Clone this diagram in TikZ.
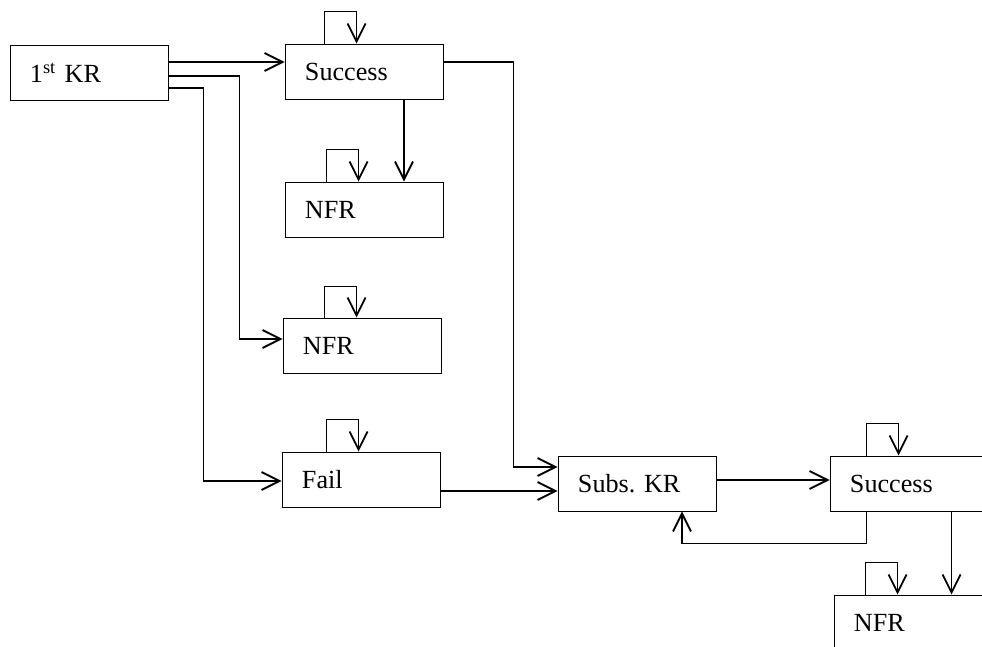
\documentclass[tikz,border=0pt]{standalone}
\usepackage{fontspec}
\setmainfont{Liberation Serif}
\usepackage{tikz}
\usetikzlibrary{arrows.meta,calc}

\begin{document}
\begin{tikzpicture}[
	x=0.025cm, y=-0.025cm,
	box/.style={
		draw,
		line width=0.6pt,
		minimum width=3.95cm,
		minimum height=1.375cm,
		text width=2.95cm,
		inner xsep=0.5cm,
		align=left,
		font=\fontsize{18.6}{22}\selectfont
	},
	arrow/.style={
		-{Straight Barb[length=4.5mm,width=4.5mm]},
		line width=1.3pt
	}
	]
	
	\useasboundingbox (0,0) rectangle (982,646);
	\clip (0,0) rectangle (982,646);
	
	% first round
	\node[box] (kr) at (89,72.5)
	{1\textsuperscript{st} KR};
	
	\node[box] (succa) at (364,71.5)
	{Success};
	
	\node[box] (nfra) at (364,209.5)
	{NFR};
	
	\node[box] (nfrb) at (362,345.5)
	{NFR};
	
	\node[box] (fail) at (361,479.5)
	{Fail};
	
	% subsequent rounds
	\node[box] (subs) at (637,483.5)
	{Subs.\ KR};
	
	\node[box] (succb) at (909,483.5)
	{Success};
	
	\node[box] (nfrc) at (913,622.5)
	{NFR};
	
	% Arrows out of the first KR
	\draw[arrow] ($(kr.east)+(0,-10.5)$) -- ($(succa.west)+(0,-9.5)$);
	\draw[arrow] ($(kr.east)+(0,3.5)$) -- ++(71,0) |- ($(nfrb.west)+(0,-6.5)$);
	\draw[arrow] ($(kr.east)+(0,15.5)$) -- ++(35,0) |- ($(fail.west)+(0,1.5)$);
	
	\draw[arrow] ($(succa.south)+(40,0)$) -- ($(nfra.north)+(40,0)$);
	\draw[arrow] ($(succa.east)+(0,-9.5)$) -- ++(70,0) |- ($(subs.west)+(0,-16.5)$);
	\draw[arrow] ($(fail.east)+(0,11.5)$) -- ($(subs.west)+(0,7.5)$);
	
	% Arrows of the subsequent KR
	\draw[arrow] ($(subs.east)+(0,-3.5)$) -- ($(succb.west)+(0,-3.5)$);
	\draw[arrow] ($(succb.south west)+(37,0)$) -- ++(0,32) -| ($(subs.south)+(45,0)$);
	\draw[arrow] ($(succb.south west)+(122,0)$) -- ($(nfrc.north west)+(118,0)$);
	
	% Self loops
	\draw[arrow] ($(succa.north west)+(40,0)$) -- ++(0,-32) -- ++(32,0) -- ($(succa.north west)+(72,0)$);
	\draw[arrow] ($(nfra.north west)+(42,0)$) -- ++(0,-32) -- ++(32,0) -- ($(nfra.north west)+(74,0)$);
	\draw[arrow] ($(nfrb.north west)+(42,0)$) -- ++(0,-31) -- ++(32,0) -- ($(nfrb.north west)+(74,0)$);
	\draw[arrow] ($(fail.north west)+(45,0)$) -- ++(0,-32) -- ++(32,0) -- ($(fail.north west)+(77,0)$);
	\draw[arrow] ($(succb.north west)+(37,0)$) -- ++(0,-32) -- ++(32,0) -- ($(succb.north west)+(69,0)$);
	\draw[arrow] ($(nfrc.north west)+(32,0)$) -- ++(0,-32) -- ++(32,0) -- ($(nfrc.north west)+(64,0)$);
	
\end{tikzpicture}
\end{document}
